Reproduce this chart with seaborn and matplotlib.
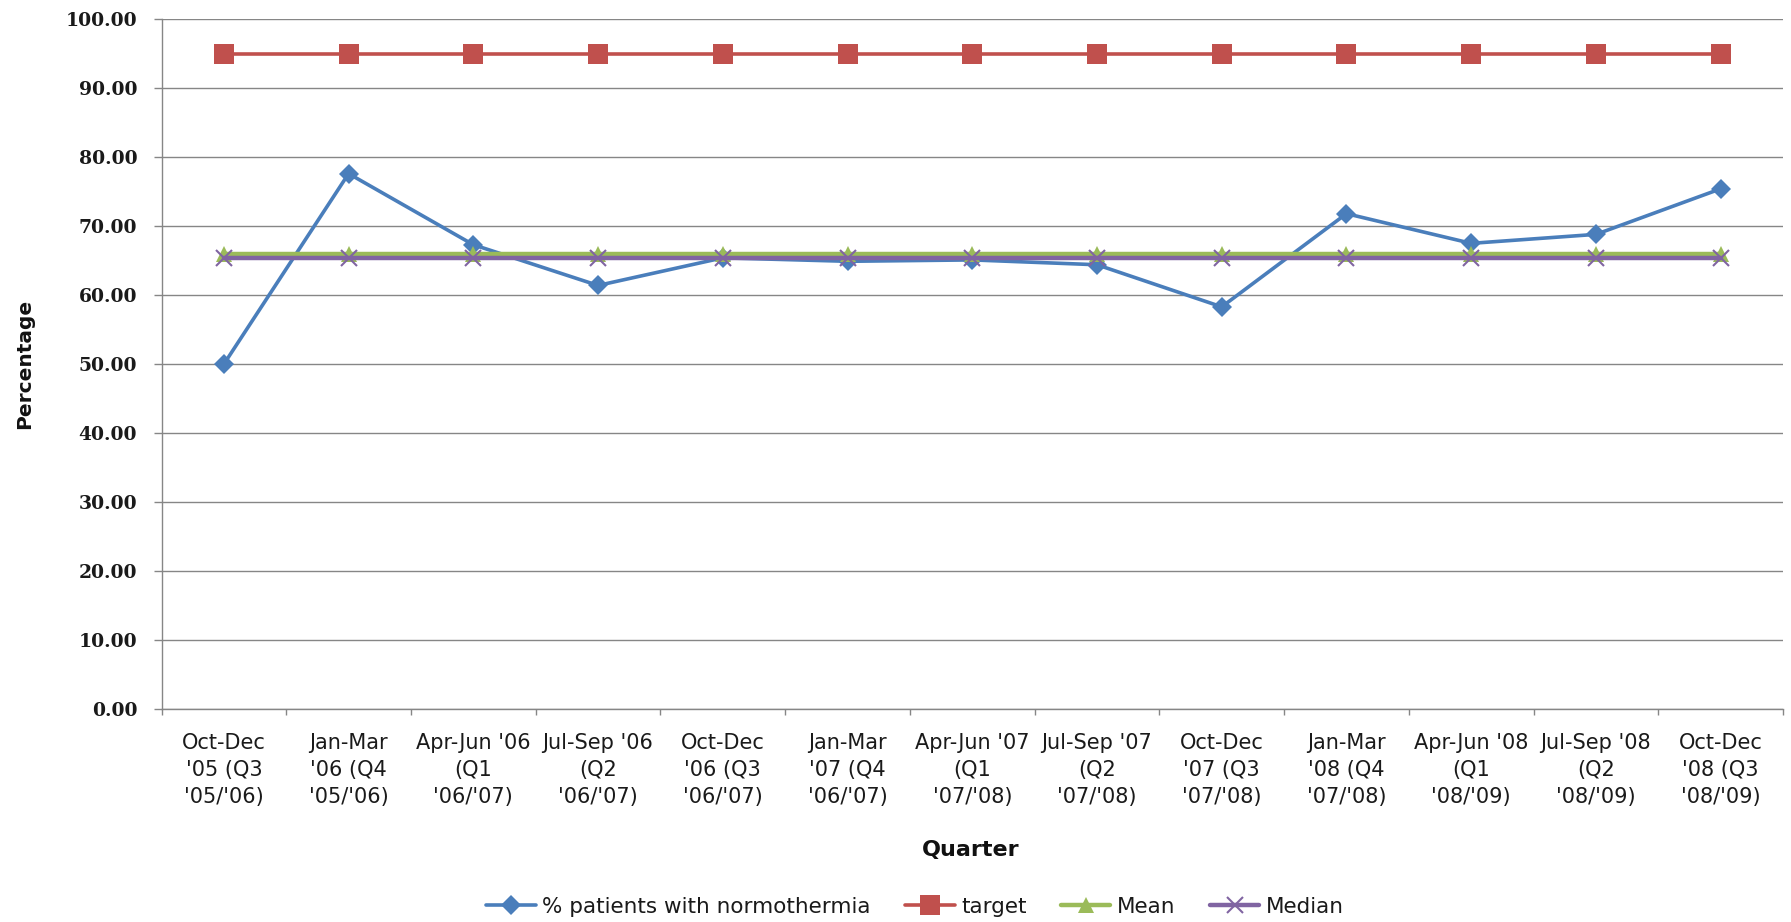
import matplotlib
matplotlib.use("Agg")
import matplotlib.pyplot as plt
import seaborn as sns
import pandas as pd
import numpy as np
from matplotlib.ticker import FixedLocator

quarters = [
    "Oct-Dec\n'05 (Q3\n'05/'06)",
    "Jan-Mar\n'06 (Q4\n'05/'06)",
    "Apr-Jun '06\n(Q1\n'06/'07)",
    "Jul-Sep '06\n(Q2\n'06/'07)",
    "Oct-Dec\n'06 (Q3\n'06/'07)",
    "Jan-Mar\n'07 (Q4\n'06/'07)",
    "Apr-Jun '07\n(Q1\n'07/'08)",
    "Jul-Sep '07\n(Q2\n'07/'08)",
    "Oct-Dec\n'07 (Q3\n'07/'08)",
    "Jan-Mar\n'08 (Q4\n'07/'08)",
    "Apr-Jun '08\n(Q1\n'08/'09)",
    "Jul-Sep '08\n(Q2\n'08/'09)",
    "Oct-Dec\n'08 (Q3\n'08/'09)",
]
normothermia = [50.0, 77.6, 67.3, 61.4, 65.4, 64.9, 65.1, 64.4, 58.3, 71.8, 67.5, 68.8, 75.4]
target = [95.0] * 13
mean_vals = [66.0] * 13
median_vals = [65.4] * 13

series_names = ["% patients with normothermia", "target", "Mean", "Median"]
series_values = [normothermia, target, mean_vals, median_vals]

sns.set_theme(style="white")
plt.rcParams["font.family"] = ["DejaVu Sans"]

fig = plt.figure(figsize=(17.91, 9.22), dpi=100)
ax = fig.add_axes([161.5 / 1791, 1 - 709.3 / 922, (1783 - 161.5) / 1791, (709.3 - 19) / 922])

styles = {
    "% patients with normothermia": dict(color="#4A7EBB", marker="D", markersize=10.5, lw=2.6, mew=0),
    "target": dict(color="#C0504D", marker="s", markersize=14, lw=2.6, mew=0),
    "Mean": dict(color="#9BBB59", marker="^", markersize=11, lw=3.2, mew=0),
    "Median": dict(color="#8064A2", marker="x", markersize=12, lw=3.2, mew=1.5),
}

x_idx = np.arange(len(quarters))
for z, (name, vals) in enumerate(zip(series_names, series_values)):
    st = styles[name]
    df = pd.DataFrame({"pos": x_idx, "value": vals})
    sns.lineplot(data=df, x="pos", y="value", ax=ax, color=st["color"],
                 marker=st["marker"], markersize=st["markersize"], linewidth=st["lw"],
                 markeredgewidth=st["mew"], markeredgecolor=st["color"],
                 label=name, zorder=3 + z, legend=False)

ax.set_xlim(-0.5, len(quarters) - 0.5)
ax.set_ylim(0, 100)
ax.set_yticks(np.arange(0, 101, 10))
ax.set_yticklabels([f"{v:.2f}" for v in np.arange(0, 101, 10)],
                   family="DejaVu Serif", fontweight="bold", fontsize=13.5, color="#1a1a1a")
ax.set_xticks(x_idx)
ax.set_xticklabels(quarters, fontsize=15, color="#1a1a1a", linespacing=1.45)
ax.xaxis.set_minor_locator(FixedLocator(np.arange(-0.5, len(quarters), 1.0)))
ax.tick_params(axis="x", which="major", length=0, pad=17)
ax.tick_params(axis="x", which="minor", length=4, color="#868686", width=1, direction="out", bottom=True)
ax.tick_params(axis="y", which="major", length=5.5, color="#868686", width=1, direction="out", left=True, pad=12)

ax.grid(axis="y", color="#868686", linewidth=1)
ax.grid(axis="x", visible=False)
ax.set_axisbelow(True)
for side in ["top", "right"]:
    ax.spines[side].set_visible(False)
for side in ["left", "bottom"]:
    ax.spines[side].set_color("#868686")
    ax.spines[side].set_linewidth(1)
ax.set_xlabel("")
ax.set_ylabel("")

fig.text(25 / 1791, 1 - 364 / 922, "Percentage", rotation=90, ha="center", va="center",
         fontsize=14.5, fontweight="bold", color="#111111")
fig.text(971 / 1791, 1 - 850 / 922, "Quarter", ha="center", va="center",
         fontsize=16, fontweight="bold", color="#111111")

handles, labels = ax.get_legend_handles_labels()
fig.legend(handles, labels, loc="center", ncol=4, bbox_to_anchor=(915 / 1791, 1 - 907 / 922),
           frameon=False, fontsize=15.5, handlelength=2.3, columnspacing=1.6, handletextpad=0.3,
           labelcolor="#1a1a1a")

fig.savefig("out.png", dpi=100)
